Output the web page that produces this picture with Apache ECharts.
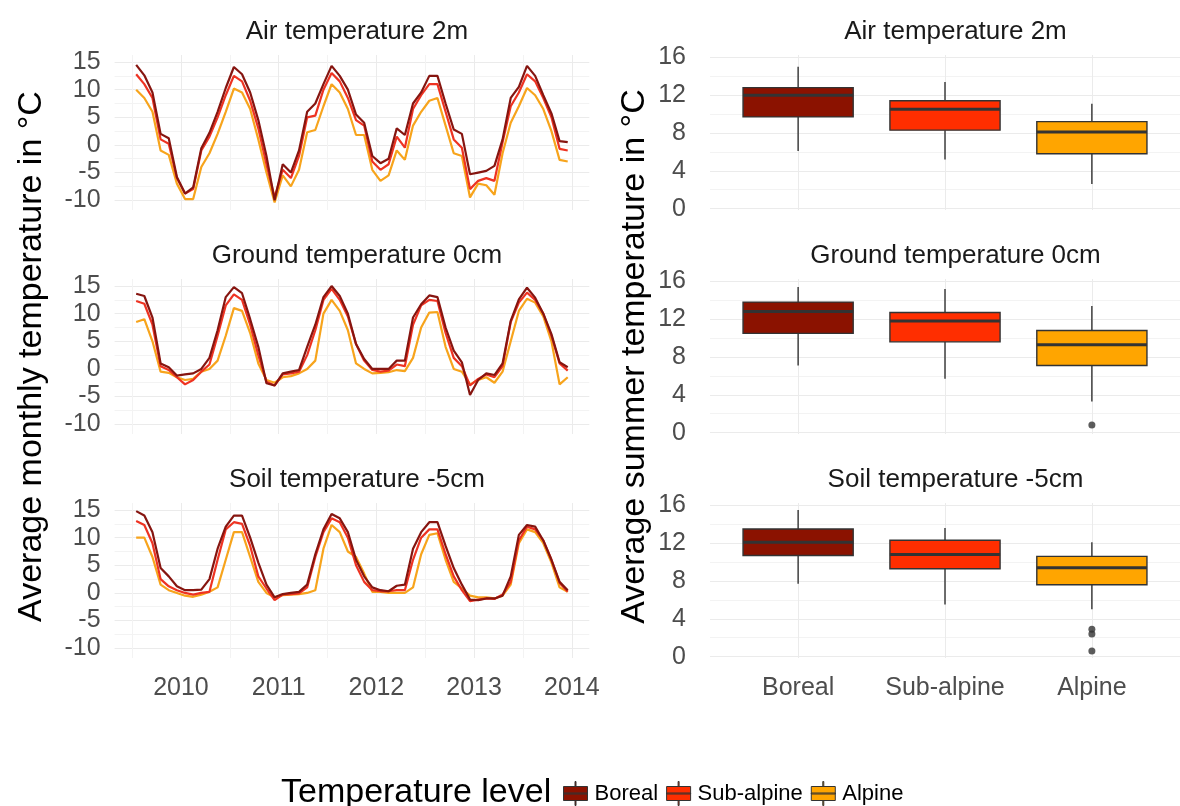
<!DOCTYPE html>
<html>
<head>
<meta charset="utf-8">
<script src="https://cdn.jsdelivr.net/npm/echarts@6/dist/echarts.min.js"></script>
<style>
  html, body { margin: 0; padding: 0; background: #ffffff; }
  #chart { width: 1180px; height: 806px; }
</style>
</head>
<body>
<div id="chart"></div>
<script>
// Temperature levels and their colours
const levels = ['Boreal', 'Sub-alpine', 'Alpine'];
const fillColors = ['#8B1200', '#FF2E00', '#FFA500'];
const lineColors = ['#861510', '#EE3322', '#F7A41C'];
const panelTitles = ['Air temperature 2m', 'Ground temperature 0cm', 'Soil temperature -5cm'];

// Monthly series run from July 2009 to December 2013
const startYear = 2009;
const startMonthIndex = 6; // July (0-based)
const monthCount = 54;
const yearLabels = [2010, 2011, 2012, 2013, 2014];
const yearGridValues = [2009.5, 2010, 2010.5, 2011, 2011.5, 2012, 2012.5, 2013, 2013.5, 2014];
const monthlyTickLabels = [-10, -5, 0, 5, 10, 15];
const monthlyGridValues = [-10, -7.5, -5, -2.5, 0, 2.5, 5, 7.5, 10, 12.5, 15];
const summerTickLabels = [0, 4, 8, 12, 16];
const summerGridValues = [0, 2, 4, 6, 8, 10, 12, 14, 16];

// Average monthly temperature (°C) — air 2 m
const airBoreal = [14.5,12.6,9.5,2.0,1.2,-5.8,-8.8,-7.7,-0.6,2.2,6.0,10.3,14.1,12.8,9.5,4.5,-2.0,-10.0,-3.5,-5.0,-1.0,6.0,7.5,11.0,14.3,12.5,10.0,5.5,4.0,-2.0,-3.3,-2.5,3.0,1.8,7.5,9.5,12.5,12.5,7.5,2.8,2.0,-5.3,-5.0,-4.7,-3.8,1.0,8.5,10.5,14.3,12.5,9.0,5.7,0.7,0.5];
const airSubalpine = [12.8,11.0,8.5,1.0,0.2,-6.0,-8.8,-8.0,-1.0,1.5,5.0,9.0,12.5,11.5,8.0,3.0,-3.5,-9.5,-4.5,-6.0,-2.0,5.0,5.3,10.0,13.0,11.5,8.5,4.5,3.5,-3.0,-4.5,-3.5,1.5,-0.5,6.5,9.0,11.0,11.0,6.0,1.0,-0.5,-8.0,-6.5,-6.0,-6.5,0.5,7.0,9.5,12.8,11.5,8.5,5.0,-0.7,-1.0];
const airAlpine = [10.0,8.5,6.0,-1.0,-1.8,-7.0,-9.8,-9.8,-4.0,-1.5,2.0,6.0,10.2,9.5,6.5,1.0,-5.0,-10.4,-5.5,-7.5,-4.5,2.3,2.7,7.0,11.0,9.5,6.5,1.8,1.8,-4.5,-6.5,-5.5,-1.0,-2.7,3.5,6.0,8.0,8.5,3.5,-1.5,-2.0,-9.5,-7.0,-7.3,-9.0,-1.5,4.0,7.0,10.3,9.0,6.5,2.5,-2.7,-3.0];

// Ground 0 cm
const groundBoreal = [13.6,13.2,9.3,1.0,0.3,-1.2,-1.0,-0.8,0.0,2.0,7.0,13.0,14.8,13.7,9.0,4.0,-2.6,-3.0,-0.8,-0.5,-0.2,4.0,8.0,13.0,15.0,13.2,10.0,4.5,1.8,0.0,0.0,0.0,1.5,1.5,9.3,11.7,13.3,13.0,7.5,3.3,1.2,-4.7,-2.0,-0.8,-1.1,1.0,8.7,12.6,14.7,12.9,10.0,6.3,1.2,0.3];
const groundSubalpine = [12.3,11.8,8.0,0.5,-0.2,-1.5,-2.8,-2.0,-0.5,0.8,6.0,11.5,13.5,12.5,8.0,2.5,-2.3,-3.0,-1.0,-0.8,-0.5,2.5,7.0,12.5,14.5,12.5,9.5,4.5,1.5,-0.2,-0.5,-0.3,0.8,0.5,8.0,11.5,12.5,12.3,6.5,2.0,0.5,-3.0,-1.8,-1.0,-1.5,0.5,8.5,12.0,13.8,12.5,10.0,6.0,1.0,-0.3];
const groundAlpine = [8.5,9.0,5.0,-0.5,-0.7,-1.5,-2.0,-1.8,-0.5,0.0,1.5,6.0,11.0,10.5,6.5,1.0,-2.0,-2.5,-1.5,-1.3,-0.8,0.0,1.5,10.0,12.5,10.5,7.0,1.0,0.0,-0.8,-0.7,-0.6,-0.2,-0.4,2.0,7.5,10.2,10.3,4.0,0.0,-0.5,-2.8,-2.0,-1.5,-2.5,-0.5,5.0,10.5,12.7,12.0,9.5,5.0,-2.8,-1.5];

// Soil -5 cm
const soilBoreal = [14.8,14.0,11.0,4.5,3.0,1.2,0.5,0.5,0.6,2.5,8.0,12.0,14.0,14.0,10.0,5.5,1.5,-0.8,-0.2,0.0,0.2,1.5,7.0,11.5,14.3,13.5,11.0,6.0,3.0,1.0,0.5,0.3,1.3,1.5,8.0,11.0,12.8,12.8,8.5,4.5,1.5,-1.2,-1.3,-1.0,-1.0,-0.5,3.0,10.5,12.3,12.0,9.5,6.0,2.0,0.5];
const soilSubalpine = [13.0,12.3,9.0,2.5,1.2,0.5,0.0,-0.3,0.0,0.2,6.0,11.5,12.8,12.5,8.5,3.0,0.8,-1.3,-0.3,-0.2,-0.1,1.0,6.5,11.0,13.5,12.8,10.0,5.0,2.0,0.5,0.3,0.3,0.5,0.5,6.0,10.0,11.5,11.5,7.0,3.0,0.5,-1.5,-1.2,-1.0,-1.1,-0.3,2.0,9.5,12.0,11.5,9.5,6.0,1.8,0.2];
const soilAlpine = [10.0,10.0,6.5,1.5,0.5,0.0,-0.5,-0.7,-0.3,0.2,1.0,6.0,11.0,11.0,6.5,2.0,0.0,-0.8,-0.4,-0.3,-0.2,0.0,0.5,8.0,12.3,11.0,7.5,6.5,3.5,0.2,0.2,0.0,0.0,0.0,1.0,7.0,10.5,10.8,6.0,2.0,0.8,-0.5,-0.8,-0.8,-1.0,-0.5,1.5,9.0,11.5,11.0,9.0,5.5,1.0,0.2];

// Average summer temperature box statistics: [min, Q1, median, Q3, max]
const airBoxBoreal = [6.1, 9.7, 12.0, 12.8, 15.0];
const airBoxSubalpine = [5.2, 8.3, 10.5, 11.4, 13.4];
const airBoxAlpine = [2.6, 5.8, 8.1, 9.2, 11.1];
const groundBoxBoreal = [7.1, 10.5, 12.8, 13.8, 15.4];
const groundBoxSubalpine = [5.7, 9.6, 11.8, 12.7, 15.2];
const groundBoxAlpine = [3.3, 7.1, 9.3, 10.8, 13.4];
const soilBoxBoreal = [7.7, 10.7, 12.1, 13.5, 15.5];
const soilBoxSubalpine = [5.5, 9.3, 10.8, 12.3, 13.6];
const soilBoxAlpine = [5.0, 7.6, 9.4, 10.6, 12.1];
// Outlying summer means (Alpine)
const groundOutliersAlpine = [0.8];
const soilOutliersAlpine = [2.9, 2.4, 0.6];

const monthlySets = [
  [airBoreal, airSubalpine, airAlpine],
  [groundBoreal, groundSubalpine, groundAlpine],
  [soilBoreal, soilSubalpine, soilAlpine]
];
const boxSets = [
  [airBoxBoreal, airBoxSubalpine, airBoxAlpine],
  [groundBoxBoreal, groundBoxSubalpine, groundBoxAlpine],
  [soilBoxBoreal, soilBoxSubalpine, soilBoxAlpine]
];
const outlierSets = [[], groundOutliersAlpine, soilOutliersAlpine];

// decimal-year position of each month (middle of the month)
const monthPositions = [];
for (let i = 0; i < monthCount; i++) {
  monthPositions.push(startYear + (startMonthIndex + i + 0.5) / 12);
}

const FONT = 'Liberation Sans, Arial, Helvetica, sans-serif';
const GRID_MAJOR = '#EBEBEB';
const GRID_MINOR = '#F3F3F3';
const panelTops = [55, 279, 503];
const titleTops = [14, 238, 462];
const panelHeight = 155;
const leftPanel = { left: 114.6, width: 474.7 };
const rightPanel = { left: 710, width: 481 };

const chart = echarts.init(document.getElementById('chart'), null, { renderer: 'canvas' });

const grids = [], xAxes = [], yAxes = [], series = [], titles = [];
const titleStyle = { fontFamily: FONT, fontSize: 26, fontWeight: 'normal', color: '#1A1A1A' };

panelTitles.forEach((t, p) => {
  // left column: monthly lines
  grids.push({ left: leftPanel.left, width: leftPanel.width, top: panelTops[p], height: panelHeight });
  // right column: summer boxes
  grids.push({ left: rightPanel.left, width: rightPanel.width, top: panelTops[p], height: panelHeight });
  titles.push({ text: t, left: leftPanel.left + leftPanel.width / 2, top: titleTops[p], textAlign: 'center', textStyle: titleStyle });
  titles.push({ text: t, left: rightPanel.left + rightPanel.width / 2, top: titleTops[p], textAlign: 'center', textStyle: titleStyle });
});

const tickText = { fontFamily: FONT, fontSize: 25, color: '#4D4D4D' };

panelTitles.forEach((t, p) => {
  const gl = p * 2, gr = p * 2 + 1;
  const isBottom = p === 2;
  const isMiddle = p === 1;
  // left x (time in decimal years)
  xAxes.push({
    type: 'value', gridIndex: gl, min: 2009.3208, max: 2014.1792,
    axisLine: { show: false },
    axisTick: { show: false, customValues: yearGridValues },
    axisLabel: { show: isBottom, customValues: yearLabels, margin: 18, formatter: v => String(Math.round(v)), ...tickText },
    splitLine: { show: true, lineStyle: { color: [GRID_MINOR, GRID_MAJOR], width: 1 } }
  });
  // right x (levels)
  xAxes.push({
    type: 'value', gridIndex: gr, min: 0.4, max: 3.6,
    axisLine: { show: false },
    axisTick: { show: false, customValues: [1, 2, 3] },
    axisLabel: { show: isBottom, customValues: [1, 2, 3], margin: 18, formatter: v => levels[Math.round(v) - 1], ...tickText },
    splitLine: { show: true, lineStyle: { color: GRID_MAJOR, width: 1 } }
  });
  yAxes.push({
    type: 'value', gridIndex: gl, min: -11.775, max: 16.275,
    name: isMiddle ? 'Average monthly temperature in °C' : '',
    nameLocation: 'middle', nameGap: 66,
    nameTextStyle: { fontFamily: FONT, fontSize: 34, color: '#000000' },
    axisLine: { show: false },
    axisTick: { show: false, customValues: monthlyGridValues },
    axisLabel: { customValues: monthlyTickLabels, margin: 14, ...tickText },
    splitLine: { show: true, lineStyle: { color: [GRID_MAJOR, GRID_MINOR], width: 1 } }
  });
  yAxes.push({
    type: 'value', gridIndex: gr, min: -0.145, max: 16.245,
    name: isMiddle ? 'Average summer temperature in °C' : '',
    nameLocation: 'middle', nameGap: 58,
    nameTextStyle: { fontFamily: FONT, fontSize: 34, color: '#000000' },
    axisLine: { show: false },
    axisTick: { show: false, customValues: summerGridValues },
    axisLabel: { customValues: summerTickLabels, margin: 24, ...tickText },
    splitLine: { show: true, lineStyle: { color: [GRID_MAJOR, GRID_MINOR], width: 1 } }
  });
});

// box-and-whisker drawing in data coordinates
function renderBox(params, api) {
  const x = api.value(0);
  const pMin = api.coord([x, api.value(1)]);
  const pQ1 = api.coord([x, api.value(2)]);
  const pMed = api.coord([x, api.value(3)]);
  const pQ3 = api.coord([x, api.value(4)]);
  const pMax = api.coord([x, api.value(5)]);
  const half = api.size([0.75, 0])[0] / 2;
  const fill = api.visual('color');
  const edge = '#333333';
  return {
    type: 'group',
    children: [
      { type: 'line', shape: { x1: pMax[0], y1: pMax[1], x2: pQ3[0], y2: pQ3[1] }, style: { stroke: edge, lineWidth: 1.4 } },
      { type: 'line', shape: { x1: pQ1[0], y1: pQ1[1], x2: pMin[0], y2: pMin[1] }, style: { stroke: edge, lineWidth: 1.4 } },
      { type: 'rect', shape: { x: pQ3[0] - half, y: pQ3[1], width: half * 2, height: pQ1[1] - pQ3[1] },
        style: { fill: fill, stroke: edge, lineWidth: 1.4 } },
      { type: 'line', shape: { x1: pMed[0] - half, y1: pMed[1], x2: pMed[0] + half, y2: pMed[1] }, style: { stroke: edge, lineWidth: 3 } }
    ]
  };
}

// boxes first so the legend keys take their styling
boxSets.forEach((set, p) => {
  set.forEach((stats, k) => {
    series.push({
      type: 'custom', name: levels[k], xAxisIndex: p * 2 + 1, yAxisIndex: p * 2 + 1,
      renderItem: renderBox,
      itemStyle: { color: fillColors[k] },
      encode: { x: 0, y: [1, 2, 3, 4, 5] },
      data: [[k + 1].concat(stats)],
      silent: true
    });
  });
  if (outlierSets[p].length) {
    series.push({
      type: 'scatter', name: 'outliers', xAxisIndex: p * 2 + 1, yAxisIndex: p * 2 + 1,
      symbolSize: 7, itemStyle: { color: '#333333' },
      data: outlierSets[p].map(v => [3, v]),
      silent: true
    });
  }
});

monthlySets.forEach((set, p) => {
  set.forEach((vals, k) => {
    series.push({
      type: 'line', name: levels[k], xAxisIndex: p * 2, yAxisIndex: p * 2,
      showSymbol: false, symbol: 'none',
      lineStyle: { color: lineColors[k], width: 2.2 },
      itemStyle: { color: lineColors[k] },
      data: vals.map((v, i) => [monthPositions[i], v]),
      silent: true, z: 3 - k
    });
  });
});

titles.push({ text: 'Temperature level', left: 276, top: 771,
  textStyle: { fontFamily: FONT, fontSize: 34, fontWeight: 'normal', color: '#000000' } });

const keyIcon = 'path://M13.5 0h1v5h-1zM2 5h24v14h-24zM2 11.5h24v1h-24zM13.5 19h1v5h-1z';

chart.setOption({
  animation: false,
  backgroundColor: '#ffffff',
  title: titles,
  grid: grids,
  xAxis: xAxes,
  yAxis: yAxes,
  legend: {
    left: 558, top: 776, orient: 'horizontal',
    itemWidth: 28, itemHeight: 24, itemGap: 8,
    selectedMode: false,
    textStyle: { fontFamily: FONT, fontSize: 22, color: '#000000' },
    data: levels.map((n, k) => ({
      name: n, icon: keyIcon,
      itemStyle: { color: fillColors[k], borderColor: '#333333', borderWidth: 1 }
    }))
  },
  series: series
});
</script>
</body>
</html>
